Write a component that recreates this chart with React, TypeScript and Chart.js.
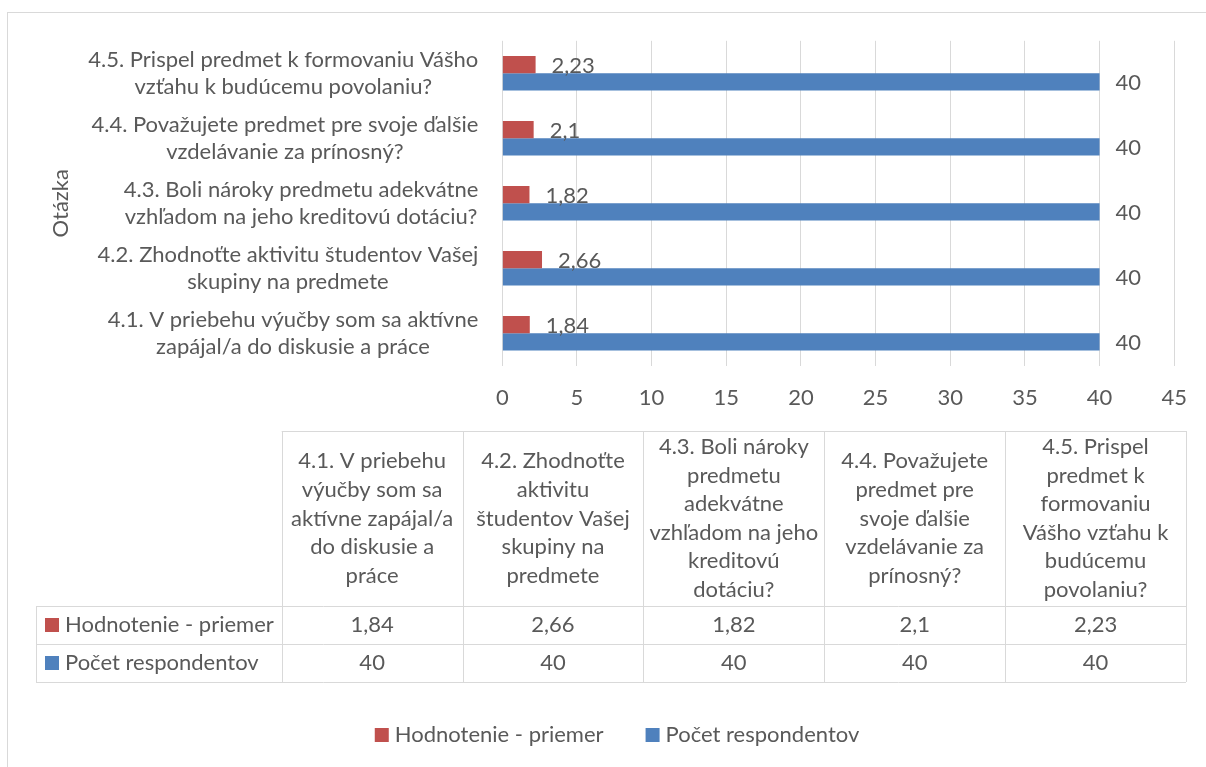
import React, { useEffect, useRef } from "react";
import { Chart, registerables } from "chart.js";

Chart.register(...registerables);

// ---------- DATA ----------
const categories = [
  "4.1. V priebehu výučby som sa aktívne zapájal/a do diskusie a práce",
  "4.2. Zhodnoťte aktivitu študentov Vašej skupiny na predmete",
  "4.3. Boli nároky predmetu adekvátne vzhľadom na jeho kreditovú dotáciu?",
  "4.4. Považujete predmet pre svoje ďalšie vzdelávanie za prínosný?",
  "4.5. Prispel predmet k formovaniu Vášho vzťahu k budúcemu povolaniu?",
];
const axisLabelLines = [
  ["4.1. V priebehu výučby som sa aktívne", "zapájal/a do diskusie a práce"],
  ["4.2. Zhodnoťte aktivitu študentov Vašej", "skupiny na predmete"],
  ["4.3. Boli nároky predmetu adekvátne", "vzhľadom na jeho kreditovú dotáciu?"],
  ["4.4. Považujete predmet pre svoje ďalšie", "vzdelávanie za prínosný?"],
  ["4.5. Prispel predmet k formovaniu Vášho", "vzťahu k budúcemu povolaniu?"],
];
const tableHeaderLines = [
  ["4.1. V priebehu", "výučby som sa", "aktívne zapájal/a", "do diskusie a", "práce"],
  ["4.2. Zhodnoťte", "aktivitu", "študentov Vašej", "skupiny na", "predmete"],
  ["4.3. Boli nároky", "predmetu", "adekvátne", "vzhľadom na jeho", "kreditovú", "dotáciu?"],
  ["4.4. Považujete", "predmet pre", "svoje ďalšie", "vzdelávanie za", "prínosný?"],
  ["4.5. Prispel", "predmet k", "formovaniu", "Vášho vzťahu k", "budúcemu", "povolaniu?"],
];
const seriesNames = ["Hodnotenie - priemer", "Počet respondentov"];
const hodnotenie = [1.84, 2.66, 1.82, 2.1, 2.23];
const pocetRespondentov = [40, 40, 40, 40, 40];
const xMin = 0;
const xMax = 45;
const xStep = 5;
const axisTitle = "Otázka";

// ---------- STYLE ----------
const RED = "#C0504D";
const BLUE = "#4F81BD";
const TEXT = "#595959";
const GRID = "#D9D9D9";
const FONT_FAMILY = "Lato";
const FONT_SIZE = 22;
const FONT = `${FONT_SIZE}px ${FONT_FAMILY}`;

const fmt = (v: number) => String(v).replace(".", ",");

const customDraw = {
  id: "customDraw",
  beforeDraw(chart: any) {
    const ctx = chart.ctx;
    ctx.save();
    ctx.fillStyle = "#ffffff";
    ctx.fillRect(0, 0, chart.width, chart.height);
    ctx.strokeStyle = GRID;
    ctx.lineWidth = 1;
    ctx.strokeRect(7.5, 12.5, chart.width + 20, chart.height + 20);
    ctx.restore();
  },
  afterDraw(chart: any) {
    const ctx = chart.ctx;
    const area = chart.chartArea;
    const yScale = chart.scales.y;
    ctx.save();
    ctx.font = FONT;
    ctx.fillStyle = TEXT;
    ctx.textBaseline = "middle";

    // category labels (each block right aligned, lines centered)
    const rightEdge = area.left - 24;
    const lh = 27.5;
    axisLabelLines.forEach((lines, i) => {
      const y = yScale.getPixelForValue(i);
      const maxW = Math.max(...lines.map((l) => ctx.measureText(l).width));
      const cx = rightEdge - maxW / 2;
      ctx.textAlign = "center";
      lines.forEach((l, j) => {
        ctx.fillText(l, cx, y + (j - (lines.length - 1) / 2) * lh);
      });
    });

    // axis title
    ctx.save();
    ctx.translate(61, (area.top + area.bottom) / 2);
    ctx.rotate(-Math.PI / 2);
    ctx.textAlign = "center";
    ctx.fillText(axisTitle, 0, 0);
    ctx.restore();

    // data labels
    ctx.textAlign = "left";
    chart.data.datasets.forEach((ds: any, di: number) => {
      const meta = chart.getDatasetMeta(di);
      meta.data.forEach((el: any, i: number) => {
        ctx.fillText(fmt(ds.data[i]), el.x + 16, el.y + 1);
      });
    });

    // data table
    const tTop = 431;
    const hBottom = 606;
    const rowH = 38;
    const x0 = 36;
    const x1 = 281.7;
    const xEnd = 1186;
    const colW = (xEnd - x1) / categories.length;
    const rowsBottom = hBottom + rowH * 2;
    ctx.strokeStyle = GRID;
    ctx.lineWidth = 1;
    ctx.beginPath();
    ctx.moveTo(x1, tTop + 0.5);
    ctx.lineTo(xEnd, tTop + 0.5);
    for (let r = 0; r <= 2; r++) {
      const yy = Math.round(hBottom + r * rowH) + 0.5;
      ctx.moveTo(x0, yy);
      ctx.lineTo(xEnd, yy);
    }
    ctx.moveTo(x0 + 0.5, hBottom);
    ctx.lineTo(x0 + 0.5, rowsBottom);
    for (let c = 0; c <= categories.length; c++) {
      const xx = Math.round(x1 + c * colW) + 0.5;
      ctx.moveTo(xx, tTop);
      ctx.lineTo(xx, rowsBottom);
    }
    ctx.stroke();

    ctx.fillStyle = TEXT;
    ctx.textAlign = "center";
    const hMid = (tTop + hBottom) / 2;
    const hLh = 28.6;
    tableHeaderLines.forEach((lines, c) => {
      const cx = x1 + (c + 0.5) * colW;
      lines.forEach((l, j) => {
        ctx.fillText(l, cx, hMid + (j - (lines.length - 1) / 2) * hLh);
      });
    });
    const seriesData = [hodnotenie, pocetRespondentov];
    const seriesColors = [RED, BLUE];
    seriesData.forEach((arr, r) => {
      const cy = hBottom + (r + 0.5) * rowH;
      ctx.fillStyle = seriesColors[r];
      ctx.fillRect(45, cy - 7, 14, 14);
      ctx.fillStyle = TEXT;
      ctx.textAlign = "left";
      ctx.fillText(seriesNames[r], 65, cy);
      ctx.textAlign = "center";
      arr.forEach((v, c) => {
        ctx.fillText(fmt(v), x1 + (c + 0.5) * colW, cy);
      });
    });

    // legend
    const ly = 735;
    const box = 14;
    const gap = 6;
    const spacing = 42;
    const w0 = ctx.measureText(seriesNames[0]).width;
    const w1 = ctx.measureText(seriesNames[1]).width;
    const total = box + gap + w0 + spacing + box + gap + w1;
    let lx = 617 - total / 2;
    ctx.textAlign = "left";
    [0, 1].forEach((k) => {
      ctx.fillStyle = seriesColors[k];
      ctx.fillRect(lx, ly - 7, box, box);
      lx += box + gap;
      ctx.fillStyle = TEXT;
      ctx.fillText(seriesNames[k], lx, ly);
      lx += (k === 0 ? w0 : w1) + spacing;
    });

    ctx.restore();
  },
};

export default function App() {
  const canvasRef = useRef<HTMLCanvasElement | null>(null);

  useEffect(() => {
    if (!canvasRef.current) return;
    const chart = new Chart(canvasRef.current, {
      type: "bar",
      data: {
        labels: categories,
        datasets: [
          {
            label: seriesNames[0],
            data: hodnotenie,
            backgroundColor: RED,
            categoryPercentage: 0.532,
            barPercentage: 1,
          },
          {
            label: seriesNames[1],
            data: pocetRespondentov,
            backgroundColor: BLUE,
            categoryPercentage: 0.532,
            barPercentage: 1,
          },
        ],
      },
      options: {
        indexAxis: "y",
        responsive: false,
        animation: false,
        devicePixelRatio: 1,
        layout: {
          padding: { left: 502.3, right: 30.3, top: 40.8, bottom: 767 - 365.8 - 60 },
        },
        plugins: {
          legend: { display: false },
          tooltip: { enabled: false },
        },
        scales: {
          x: {
            min: xMin,
            max: xMax,
            ticks: {
              stepSize: xStep,
              color: TEXT,
              font: { family: FONT_FAMILY, size: FONT_SIZE },
              padding: 19,
              maxRotation: 0,
              autoSkip: false,
            },
            grid: { color: GRID, drawTicks: false, lineWidth: 1 },
            border: { display: false },
            afterFit: (s: any) => {
              s.height = 60;
            },
          },
          y: {
            reverse: true,
            ticks: { display: false },
            grid: { display: false, drawTicks: false },
            border: { display: false },
            afterFit: (s: any) => {
              s.width = 0;
            },
          },
        },
      },
      plugins: [customDraw],
    } as any);
    return () => chart.destroy();
  }, []);

  return (
    <div style={{ position: "fixed", left: 0, top: 0, width: 1206, height: 767, background: "#fff" }}>
      <canvas ref={canvasRef} width={1206} height={767} style={{ display: "block" }} />
    </div>
  );
}
